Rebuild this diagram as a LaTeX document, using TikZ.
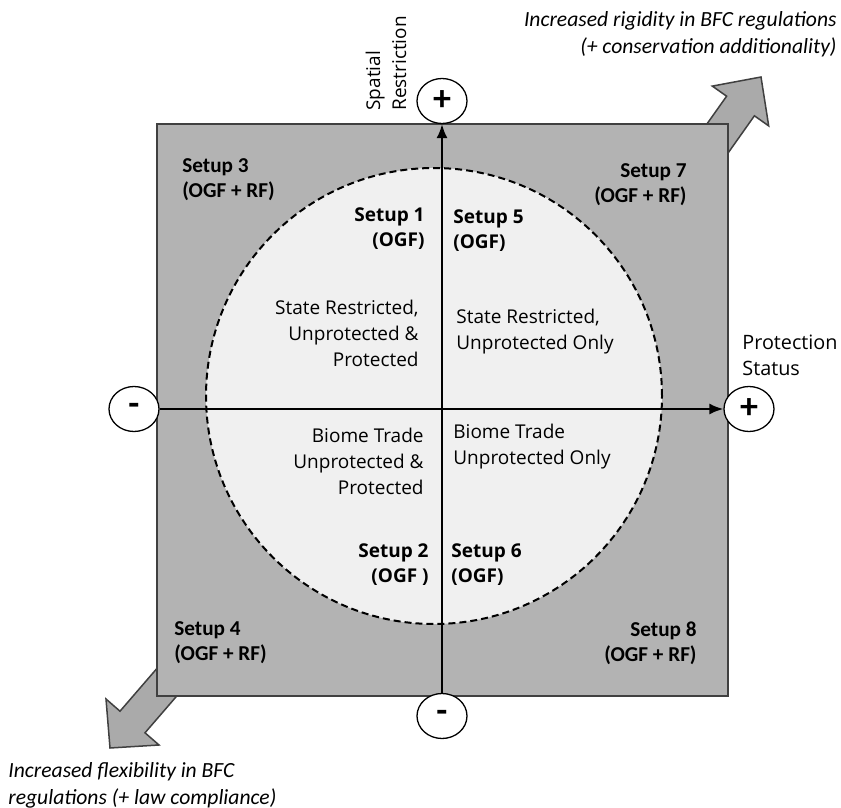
\documentclass[tikz,border=0pt]{standalone}
\usepackage{fontspec}
\setmainfont{Carlito}
\newfontfamily\opensans{Open Sans}
\usetikzlibrary{arrows.meta,shapes.geometric}
\definecolor{boxgray}{RGB}{179,179,179}
\definecolor{ringfill}{RGB}{240,240,240}
\definecolor{arrowgray}{RGB}{170,170,170}
\definecolor{rimgray}{RGB}{64,64,64}

\begin{document}
\begin{tikzpicture}[x=0.5pt,y=-0.5pt,>={Latex[length=7pt,width=5.5pt]},
  every node/.style={inner sep=0pt},
  corner/.style={font=\bfseries\fontsize{10.6}{12.5}\selectfont},
  inner/.style={font=\opensans\bfseries\fontsize{9.5}{12.5}\selectfont},
  region/.style={font=\opensans\fontsize{9.5}{13}\selectfont},
  note/.style={font=\itshape\fontsize{10.8}{13.5}\selectfont},
  axislabel/.style={font=\opensans\fontsize{9.9}{13}\selectfont},
  sign/.style={draw,ellipse,fill=white,line width=0.65pt,minimum width=25pt,minimum height=22.5pt,font=\bfseries\fontsize{18}{18}\selectfont},
  bigarrow/.style={draw=rimgray,fill=arrowgray,line width=0.75pt,line join=miter}]
  \useasboundingbox (0,0) rectangle (841,808);
  % diagonal arrows behind the box
  \draw[bigarrow] (691.9,145.2) -- (726.6,96.2) -- (712.3,86.1) -- (761,77) -- (768.7,125.9) -- (754.4,115.8) -- (719.7,164.8) -- cycle;
  \draw[bigarrow] (159.2,665.8) -- (120,711.2) -- (106,699) -- (110,748) -- (159,745) -- (145,732.8) -- (184.2,687.4) -- cycle;
  % box and circle
  \draw[draw=rimgray,fill=boxgray,line width=0.6pt] (157,124) rectangle (728,696);
  \draw[fill=ringfill,dashed,line width=1pt,dash pattern=on 3.5pt off 2pt] (434,396) circle[radius=114pt];
  % axis ends
  \node[sign] (pt) at (442,101) {+};
  \node[sign] (mb) at (442,716) {-};
  \node[sign] (ml) at (134,409) {-};
  \node[sign] (pr) at (749,409) {+};
  \draw[->,line width=1pt] (mb) -- (pt);
  \draw[->,line width=1pt] (ml) -- (pr);
  \node[axislabel,rotate=90,anchor=west,align=left,font=\opensans\fontsize{9.5}{13}\selectfont] (spatial) at (386,111) {Spatial\\Restriction};
  \node[axislabel,anchor=west,align=left] (protection) at (742,355) {Protection\\Status};
  % setups inside the circle
  \node[inner,anchor=east,align=right] (s1) at (425,229) {Setup 1\\(OGF)};
  \node[inner,anchor=west,align=left] (s5) at (453,231) {Setup 5\\(OGF)};
  \node[inner,anchor=east,align=right] (s2) at (429,565) {Setup 2\\(OGF )};
  \node[inner,anchor=west,align=left] (s6) at (451,565) {Setup 6\\(OGF)};
  \node[region,anchor=east,align=right] (r1) at (419,333) {State Restricted,\\Unprotected \&\\Protected};
  \node[region,anchor=west,align=left] (r5) at (456,332) {State Restricted,\\Unprotected Only};
  \node[region,anchor=east,align=right] (r2) at (424,461) {Biome Trade\\Unprotected \&\\Protected};
  \node[region,anchor=west,align=left] (r6) at (453,447) {Biome Trade\\Unprotected Only};
  % setups in the corners
  \node[corner,anchor=west,align=left] (s3) at (182,180) {Setup 3\\(OGF + RF)};
  \node[corner,anchor=east,align=right] (s7) at (687,185) {Setup 7\\(OGF + RF)};
  \node[corner,anchor=west,align=left] (s4) at (174,643) {Setup 4\\(OGF + RF)};
  \node[corner,anchor=east,align=right] (s8) at (697,643) {Setup 8\\(OGF + RF)};
  % diagonal notes
  \node[note,anchor=east,align=right] (rigid) at (837,34) {Increased rigidity in BFC regulations\\(+ conservation additionality)};
  \node[note,anchor=west,align=left] (flex) at (8,785) {Increased flexibility in BFC\\regulations (+ law compliance)};
\end{tikzpicture}
\end{document}
